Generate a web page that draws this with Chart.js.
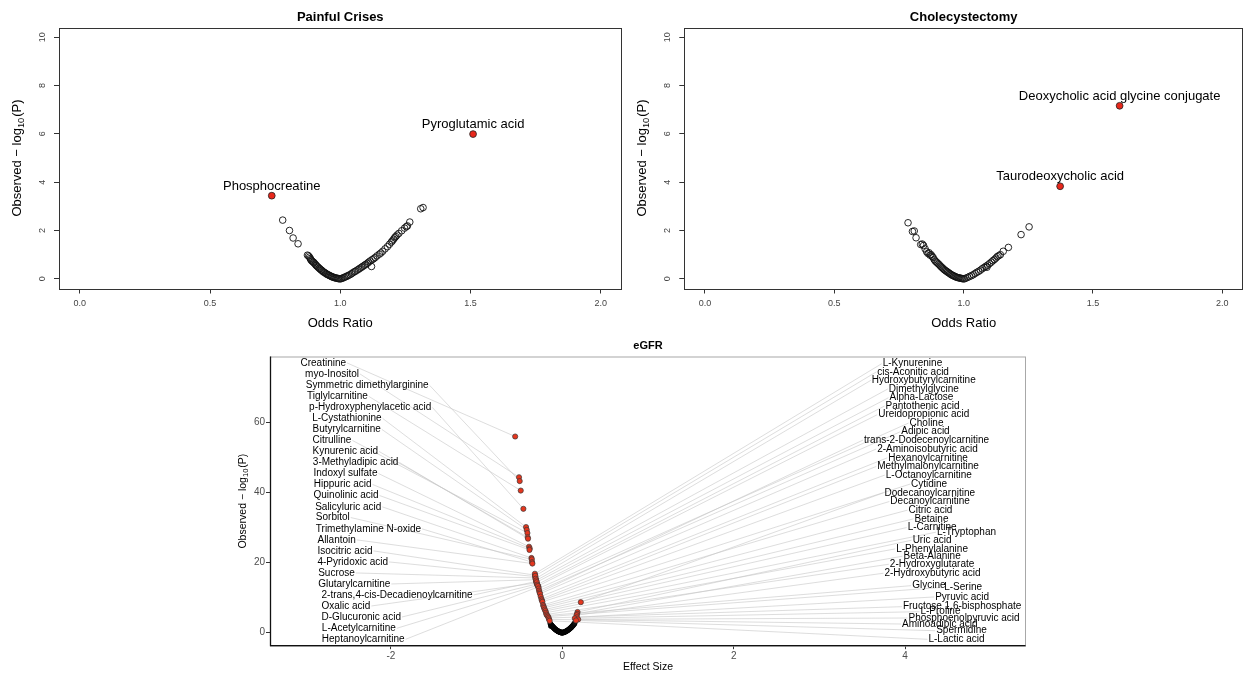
<!DOCTYPE html>
<html>
<head>
<meta charset="utf-8">
<script src="https://cdn.jsdelivr.net/npm/chart.js@4.4.1/dist/chart.umd.min.js"></script>
<style>
  html, body { margin: 0; padding: 0; background: #fff; }
  #wrap { position: relative; width: 1244px; height: 675px; overflow: hidden; }
  canvas { position: absolute; }
</style>
</head>
<body>
<div id="wrap">
  <canvas id="painful" width="622" height="335" style="left:0;top:0"></canvas>
  <canvas id="chole" width="622" height="335" style="left:622px;top:0"></canvas>
  <canvas id="egfr" width="1244" height="340" style="left:0;top:335px"></canvas>
</div>
<script>
// ---- tick labels ----
const xTicksOR = [0, 0.5, 1, 1.5, 2];
const yTicksOR = [0, 2, 4, 6, 8, 10];
const xTicksES = [-2, 0, 2, 4];
const yTicksES = [0, 20, 40, 60];

// ---- Painful Crises ----
const pcOdds = [0.779, 0.805, 0.819, 0.838, 0.874, 0.878, 0.882, 0.885, 0.887, 0.890, 0.893, 0.897, 0.899, 0.903,
  0.906, 0.908, 0.912, 0.915, 0.919, 0.922, 0.926, 0.929, 0.933, 0.936, 0.940, 0.944, 0.947, 0.951, 0.955, 0.958,
  0.962, 0.966, 0.969, 0.973, 0.977, 0.981, 0.985, 0.989, 0.993, 0.997, 1.002, 1.006, 1.011, 1.016, 1.021, 1.026,
  1.031, 1.037, 1.043, 1.048, 1.054, 1.059, 1.065, 1.071, 1.076, 1.082, 1.087, 1.093, 1.098, 1.104, 1.109, 1.115,
  1.120, 1.122, 1.128, 1.134, 1.141, 1.150, 1.156, 1.163, 1.172, 1.181, 1.189, 1.196, 1.200, 1.205, 1.209, 1.213,
  1.218, 1.225, 1.236, 1.247, 1.254, 1.258, 1.267, 1.309, 1.318];
const pcLogP = [2.43, 2.00, 1.69, 1.45, 0.98, 0.95, 0.90, 0.84, 0.79, 0.75, 0.72, 0.69, 0.66, 0.62,
  0.58, 0.55, 0.51, 0.48, 0.44, 0.41, 0.37, 0.35, 0.31, 0.28, 0.26, 0.23, 0.20, 0.18, 0.16, 0.14,
  0.12, 0.10, 0.08, 0.07, 0.05, 0.04, 0.03, 0.02, 0.01, 0.00, 0.00, 0.02, 0.04, 0.06, 0.09, 0.11,
  0.14, 0.17, 0.21, 0.25, 0.29, 0.32, 0.36, 0.40, 0.44, 0.48, 0.52, 0.56, 0.60, 0.64, 0.69, 0.74,
  0.51, 0.79, 0.83, 0.88, 0.95, 1.02, 1.07, 1.14, 1.24, 1.33, 1.43, 1.52, 1.57, 1.64, 1.70, 1.75,
  1.81, 1.88, 1.99, 2.10, 2.16, 2.19, 2.35, 2.90, 2.95];
const pcHitNames = ['Phosphocreatine', 'Pyroglutamic acid'];
const pcHitOdds = [0.737, 1.51];
const pcHitLogP = [3.44, 5.99];

// ---- Cholecystectomy ----
const chOdds = [0.785, 0.802, 0.809, 0.816, 0.834, 0.840, 0.845, 0.851, 0.857, 0.862, 0.866, 0.870, 0.874, 0.878,
  0.882, 0.886, 0.890, 0.894, 0.898, 0.902, 0.906, 0.910, 0.914, 0.918, 0.922, 0.926, 0.930, 0.934, 0.938, 0.942,
  0.946, 0.950, 0.954, 0.958, 0.962, 0.966, 0.970, 0.974, 0.978, 0.982, 0.986, 0.990, 0.994, 0.998, 1.003, 1.009,
  1.016, 1.023, 1.030, 1.037, 1.044, 1.051, 1.058, 1.065, 1.072, 1.079, 1.086, 1.090, 1.093, 1.100, 1.107, 1.113,
  1.119, 1.125, 1.130, 1.136, 1.142, 1.153, 1.173, 1.222, 1.253];
const chLogP = [2.32, 1.96, 1.98, 1.70, 1.42, 1.44, 1.38, 1.24, 1.12, 1.05, 1.08, 0.98, 1.00, 0.93,
  0.88, 0.80, 0.74, 0.70, 0.66, 0.62, 0.58, 0.53, 0.49, 0.45, 0.41, 0.37, 0.34, 0.31, 0.28, 0.25,
  0.22, 0.19, 0.16, 0.14, 0.12, 0.10, 0.08, 0.06, 0.05, 0.04, 0.03, 0.02, 0.01, 0.00, 0.00, 0.03,
  0.06, 0.10, 0.13, 0.17, 0.22, 0.27, 0.31, 0.36, 0.42, 0.47, 0.52, 0.48, 0.57, 0.63, 0.69, 0.75,
  0.80, 0.86, 0.92, 0.96, 1.00, 1.14, 1.30, 1.83, 2.15];
const chHitNames = ['Deoxycholic acid glycine conjugate', 'Taurodeoxycholic acid'];
const chHitOdds = [1.603, 1.373];
const chHitLogP = [7.16, 3.83];

// ---- eGFR: metabolites labelled on the left ----
const leftNames = ['Creatinine', 'myo-Inositol', 'Symmetric dimethylarginine', 'Tiglylcarnitine',
  'p-Hydroxyphenylacetic acid', 'L-Cystathionine', 'Butyrylcarnitine', 'Citrulline', 'Kynurenic acid',
  '3-Methyladipic acid', 'Indoxyl sulfate', 'Hippuric acid', 'Quinolinic acid', 'Salicyluric acid', 'Sorbitol',
  'Trimethylamine N-oxide', 'Allantoin', 'Isocitric acid', '4-Pyridoxic acid', 'Sucrose', 'Glutarylcarnitine',
  '2-trans,4-cis-Decadienoylcarnitine', 'Oxalic acid', 'D-Glucuronic acid', 'L-Acetylcarnitine', 'Heptanoylcarnitine'];
const leftEffect = [-0.550, -0.505, -0.497, -0.485, -0.454, -0.423, -0.415, -0.407, -0.404, -0.400, -0.388, -0.380,
  -0.383, -0.360, -0.356, -0.353, -0.349, -0.318, -0.316, -0.313, -0.309, -0.306, -0.301, -0.295, -0.288, -0.278];
const leftLogP = [55.9, 44.3, 43.2, 40.5, 35.3, 30.1, 29.3, 28.4, 27.2, 26.8, 24.5, 24.0,
  23.6, 21.3, 20.9, 20.1, 19.7, 16.4, 16.0, 15.6, 15.1, 14.6, 14.2, 13.9, 13.5, 13.1];
// label anchors (left edge), in data units as ggrepel places them
const leftLabelX = [-3.055, -3.001, -2.993, -2.978, -2.955, -2.919, -2.915, -2.915, -2.915, -2.911, -2.903, -2.900,
  -2.903, -2.884, -2.876, -2.876, -2.857, -2.857, -2.857, -2.849, -2.849, -2.810, -2.810, -2.810, -2.806, -2.806];
const leftLabelY = [76.86, 73.72, 70.47, 67.33, 64.19, 61.06, 57.92, 54.78, 51.64, 48.50, 45.36, 42.23,
  39.09, 35.86, 32.81, 29.59, 26.45, 23.31, 20.17, 17.03, 13.89, 10.76, 7.62, 4.48, 1.26, -1.88];

// ---- eGFR: metabolites labelled on the right ----
const rightNames = ['L-Kynurenine', 'cis-Aconitic acid', 'Hydroxybutyrylcarnitine', 'Dimethylglycine', 'Alpha-Lactose',
  'Pantothenic acid', 'Ureidopropionic acid', 'Choline', 'Adipic acid', 'trans-2-Dodecenoylcarnitine',
  '2-Aminoisobutyric acid', 'Hexanoylcarnitine', 'Methylmalonylcarnitine', 'L-Octanoylcarnitine', 'Cytidine',
  'Dodecanoylcarnitine', 'Decanoylcarnitine', 'Citric acid', 'Betaine', 'L-Carnitine', 'L-Tryptophan', 'Uric acid',
  'L-Phenylalanine', 'Beta-Alanine', '2-Hydroxyglutarate', '2-Hydroxybutyric acid', 'Glycine', 'L-Serine',
  'Pyruvic acid', 'Fructose 1,6-bisphosphate', 'L-Proline', 'Phosphoenolpyruvic acid', 'Aminoadipic acid',
  'Spermidine', 'L-Lactic acid'];
const rightEffect = [-0.320, -0.315, -0.311, -0.304, -0.298, -0.292, -0.284, -0.276, -0.271, -0.265, -0.260, -0.252,
  -0.243, -0.238, -0.232, 0.216, -0.224, -0.218, -0.213, -0.205, -0.196, 0.178, -0.190, 0.173, -0.185, 0.166,
  -0.175, -0.166, 0.170, -0.160, 0.146, 0.185, -0.154, 0.160, -0.148];
const rightLogP = [16.8, 16.2, 15.4, 14.9, 14.4, 13.7, 13.3, 12.6, 12.0, 11.5, 11.1, 10.3,
  9.6, 9.2, 8.8, 8.7, 7.9, 7.5, 7.1, 6.6, 6.2, 5.9, 5.7, 5.4, 5.2, 5.0,
  4.9, 4.6, 4.4, 4.2, 4.1, 3.8, 3.8, 3.5, 3.4];
// label anchors (centre), in data units
const rightLabelX = [4.086, 4.093, 4.218, 4.218, 4.191, 4.203, 4.218, 4.250, 4.238, 4.250, 4.261, 4.268,
  4.268, 4.277, 4.280, 4.288, 4.292, 4.296, 4.308, 4.315, 4.716, 4.315, 4.315, 4.315, 4.315, 4.320,
  4.277, 4.677, 4.665, 4.665, 4.413, 4.688, 4.405, 4.658, 4.600];
const rightLabelY = [76.66, 74.29, 71.90, 69.44, 66.96, 64.59, 62.11, 59.74, 57.26, 54.89, 52.33, 49.84,
  47.36, 44.91, 42.34, 39.86, 37.38, 34.92, 32.44, 29.96, 28.64, 26.36, 23.88, 21.80, 19.51, 16.95,
  13.41, 12.95, 10.19, 7.42, 5.99, 4.19, 2.48, 0.57, -1.88];

// ---- eGFR: not significant ----
const nsEffect = [-0.140, -0.134, -0.131, -0.125, -0.121, -0.114, -0.110, -0.104, -0.099, -0.096, -0.089, -0.086,
  -0.080, -0.074, -0.071, -0.064, -0.061, -0.054, -0.049, -0.046, -0.040, -0.034, -0.031, -0.024, -0.021, -0.015,
  -0.010, -0.006, -0.002, 0.003, 0.008, 0.015, 0.020, 0.027, 0.034, 0.040, 0.048, 0.054, 0.062, 0.069, 0.075,
  0.083, 0.089, 0.097, 0.104, 0.110, 0.118, 0.124, 0.131, 0.139, 0.144];
const nsLogP = [2.62, 1.90, 2.28, 2.10, 1.94, 1.81, 1.65, 1.53, 1.39, 1.29, 1.15, 1.06,
  0.95, 0.84, 0.77, 0.66, 0.59, 0.49, 0.43, 0.38, 0.30, 0.25, 0.21, 0.15, 0.11, 0.07,
  0.05, 0.02, 0.01, 0.02, 0.05, 0.09, 0.13, 0.21, 0.28, 0.35, 0.46, 0.55, 0.67, 0.80, 0.91,
  1.06, 1.19, 1.37, 1.52, 1.68, 1.88, 2.05, 2.27, 2.49, 2.73];

const FONT = '"Liberation Sans", Arial, Helvetica, sans-serif';
Chart.defaults.font.family = FONT;

function pts(xs, ys) {
  return xs.map((v, i) => ({ x: v, y: ys[i] }));
}

// rotated y title with subscript 10
function drawLogTitle(ctx, cx, cy, size) {
  const a = 'Observed \u2212 log', b = '10', c = '(P)';
  ctx.save();
  ctx.translate(cx, cy);
  ctx.rotate(-Math.PI / 2);
  ctx.fillStyle = '#000';
  ctx.textBaseline = 'middle';
  ctx.textAlign = 'left';
  ctx.font = size + 'px ' + FONT;
  const wa = ctx.measureText(a).width;
  const wc = ctx.measureText(c).width;
  ctx.font = (size * 0.72) + 'px ' + FONT;
  const wb = ctx.measureText(b).width;
  let x0 = -(wa + wb + wc + 1) / 2;
  ctx.font = size + 'px ' + FONT;
  ctx.fillText(a, x0, 0);
  ctx.font = (size * 0.72) + 'px ' + FONT;
  ctx.fillText(b, x0 + wa, size * 0.28);
  ctx.font = size + 'px ' + FONT;
  ctx.fillText(c, x0 + wa + wb + 1, 0);
  ctx.restore();
}

function makeOddsPanel(id, title, bgOdds, bgLogP, hitNames, hitOdds, hitLogP, plotLeft, plotRight) {
  const overlay = {
    id: 'overlay_' + id,
    afterDraw(chart) {
      const { ctx, chartArea: a, scales: { x, y } } = chart;
      ctx.save();
      // box
      ctx.strokeStyle = '#333';
      ctx.lineWidth = 1;
      ctx.strokeRect(Math.round(a.left) + 0.5, Math.round(a.top) + 0.5,
        Math.round(a.right - a.left) - 1, Math.round(a.bottom - a.top));
      // rotated y tick labels
      ctx.fillStyle = '#444';
      ctx.font = '9px ' + FONT;
      ctx.textAlign = 'center';
      ctx.textBaseline = 'middle';
      yTicksOR.forEach(v => {
        ctx.save();
        ctx.translate(a.left - 16.5, y.getPixelForValue(v));
        ctx.rotate(-Math.PI / 2);
        ctx.fillText(String(v), 0, 0);
        ctx.restore();
      });
      // point labels above the hits
      ctx.fillStyle = '#000';
      ctx.font = '13px ' + FONT;
      ctx.textBaseline = 'middle';
      hitNames.forEach((n, i) => {
        ctx.fillText(n, x.getPixelForValue(hitOdds[i]), y.getPixelForValue(hitLogP[i]) - 9.5);
      });
      // titles
      const cx = (a.left + a.right) / 2;
      ctx.font = 'bold 13px ' + FONT;
      ctx.fillText(title, cx, 17.5);
      ctx.font = '13px ' + FONT;
      ctx.fillText('Odds Ratio', cx, 323.5);
      ctx.restore();
      drawLogTitle(ctx, a.left - 41.5, (a.top + a.bottom) / 2, 13);
    }
  };

  return new Chart(document.getElementById(id), {
    type: 'scatter',
    data: {
      datasets: [
        {
          data: pts(bgOdds, bgLogP),
          pointRadius: 3.3,
          pointBorderWidth: 0.9,
          borderColor: '#111',
          backgroundColor: 'rgba(0,0,0,0)'
        },
        {
          data: pts(hitOdds, hitLogP),
          pointRadius: 3.4,
          pointBorderWidth: 0.8,
          borderColor: '#222',
          backgroundColor: '#e8271b'
        }
      ]
    },
    options: {
      responsive: false,
      animation: false,
      events: [],
      layout: { autoPadding: false, padding: { left: 0, top: 27.5, right: 622 - plotRight, bottom: 0 } },
      plugins: { legend: { display: false }, tooltip: { enabled: false } },
      scales: {
        x: {
          type: 'linear',
          min: -0.08,
          max: 2.08,
          afterBuildTicks: s => { s.ticks = xTicksOR.map(v => ({ value: v })); },
          afterFit: s => { s.height = 46.5; },
          grid: { drawOnChartArea: false, tickLength: 5, tickColor: '#333', color: '#333' },
          border: { display: false },
          ticks: {
            color: '#444',
            font: { size: 9 },
            padding: 5,
            maxRotation: 0,
            callback: v => v.toFixed(1)
          }
        },
        y: {
          type: 'linear',
          min: -0.4,
          max: 10.4,
          afterBuildTicks: s => { s.ticks = yTicksOR.map(v => ({ value: v })); },
          afterFit: s => { s.width = plotLeft; },
          grid: { drawOnChartArea: false, tickLength: 5, tickColor: '#333', color: '#333' },
          border: { display: false },
          ticks: { display: false }
        }
      }
    },
    plugins: [overlay]
  });
}

makeOddsPanel('painful', 'Painful Crises', pcOdds, pcLogP, pcHitNames, pcHitOdds, pcHitLogP, 59, 621.5);
makeOddsPanel('chole', 'Cholecystectomy', chOdds, chLogP, chHitNames, chHitOdds, chHitLogP, 62.3, 621);

// ---- eGFR panel ----
const repel = {
  id: 'repel',
  beforeDatasetsDraw(chart) {
    const { ctx, scales: { x, y } } = chart;
    ctx.save();
    ctx.font = '10px ' + FONT;
    ctx.strokeStyle = '#c6c6c6';
    ctx.lineWidth = 0.6;
    leftNames.forEach((n, i) => {
      const w = ctx.measureText(n).width;
      ctx.beginPath();
      ctx.moveTo(x.getPixelForValue(leftLabelX[i]) + w + 1, y.getPixelForValue(leftLabelY[i]));
      ctx.lineTo(x.getPixelForValue(leftEffect[i]), y.getPixelForValue(leftLogP[i]));
      ctx.stroke();
    });
    rightNames.forEach((n, i) => {
      const w = ctx.measureText(n).width;
      ctx.beginPath();
      ctx.moveTo(x.getPixelForValue(rightLabelX[i]) - w / 2 - 1, y.getPixelForValue(rightLabelY[i]));
      ctx.lineTo(x.getPixelForValue(rightEffect[i]), y.getPixelForValue(rightLogP[i]));
      ctx.stroke();
    });
    ctx.restore();
  },
  afterDraw(chart) {
    const { ctx, chartArea: a, scales: { x, y } } = chart;
    ctx.save();
    // panel frame: grey box, black left and bottom axis lines
    ctx.strokeStyle = '#a8a8a8';
    ctx.lineWidth = 1;
    ctx.strokeRect(a.left, a.top + 0.5, a.right - a.left, a.bottom - a.top);
    ctx.strokeStyle = '#111';
    ctx.lineWidth = 1.3;
    ctx.beginPath();
    ctx.moveTo(a.left, a.top);
    ctx.lineTo(a.left, a.bottom);
    ctx.lineTo(a.right, a.bottom);
    ctx.stroke();
    // labels
    ctx.fillStyle = '#000';
    ctx.font = '10px ' + FONT;
    ctx.textBaseline = 'middle';
    ctx.textAlign = 'left';
    leftNames.forEach((n, i) => {
      ctx.fillText(n, x.getPixelForValue(leftLabelX[i]), y.getPixelForValue(leftLabelY[i]));
    });
    ctx.textAlign = 'center';
    rightNames.forEach((n, i) => {
      ctx.fillText(n, x.getPixelForValue(rightLabelX[i]), y.getPixelForValue(rightLabelY[i]));
    });
    // titles
    const cx = (a.left + a.right) / 2;
    ctx.font = 'bold 11px ' + FONT;
    ctx.fillText('eGFR', cx, 10.5);
    ctx.font = '10.5px ' + FONT;
    ctx.fillText('Effect Size', cx, 332.5);
    ctx.restore();
    drawLogTitle(ctx, 243, (a.top + a.bottom) / 2, 10.5);
  }
};

new Chart(document.getElementById('egfr'), {
  type: 'scatter',
  data: {
    datasets: [
      {
        data: pts(leftEffect, leftLogP).concat(pts(rightEffect, rightLogP)),
        pointRadius: 2.6,
        pointBorderWidth: 0.7,
        borderColor: '#3a3a3a',
        backgroundColor: '#e5361e'
      },
      {
        data: pts(nsEffect, nsLogP),
        pointRadius: 2.5,
        pointBorderWidth: 0.6,
        borderColor: '#000',
        backgroundColor: '#111'
      }
    ]
  },
  options: {
    responsive: false,
    animation: false,
    events: [],
    layout: { autoPadding: false, padding: { left: 0, top: 21.5, right: 218.5, bottom: 0 } },
    plugins: { legend: { display: false }, tooltip: { enabled: false } },
    scales: {
      x: {
        type: 'linear',
        min: -3.405,
        max: 5.405,
        afterBuildTicks: s => { s.ticks = xTicksES.map(v => ({ value: v })); },
        afterFit: s => { s.height = 29.3; },
        grid: { drawOnChartArea: false, tickLength: 3.5, tickColor: '#333', color: '#333' },
        border: { display: false },
        ticks: { color: '#4d4d4d', font: { size: 10 }, padding: 1, maxRotation: 0 }
      },
      y: {
        type: 'linear',
        min: -3.7,
        max: 78.7,
        afterBuildTicks: s => { s.ticks = yTicksES.map(v => ({ value: v })); },
        afterFit: s => { s.width = 270.5; },
        grid: { drawOnChartArea: false, tickLength: 4.5, tickColor: '#333', color: '#333' },
        border: { display: false },
        ticks: { color: '#4d4d4d', font: { size: 10 }, padding: 1 }
      }
    }
  },
  plugins: [repel]
});
</script>
</body>
</html>
